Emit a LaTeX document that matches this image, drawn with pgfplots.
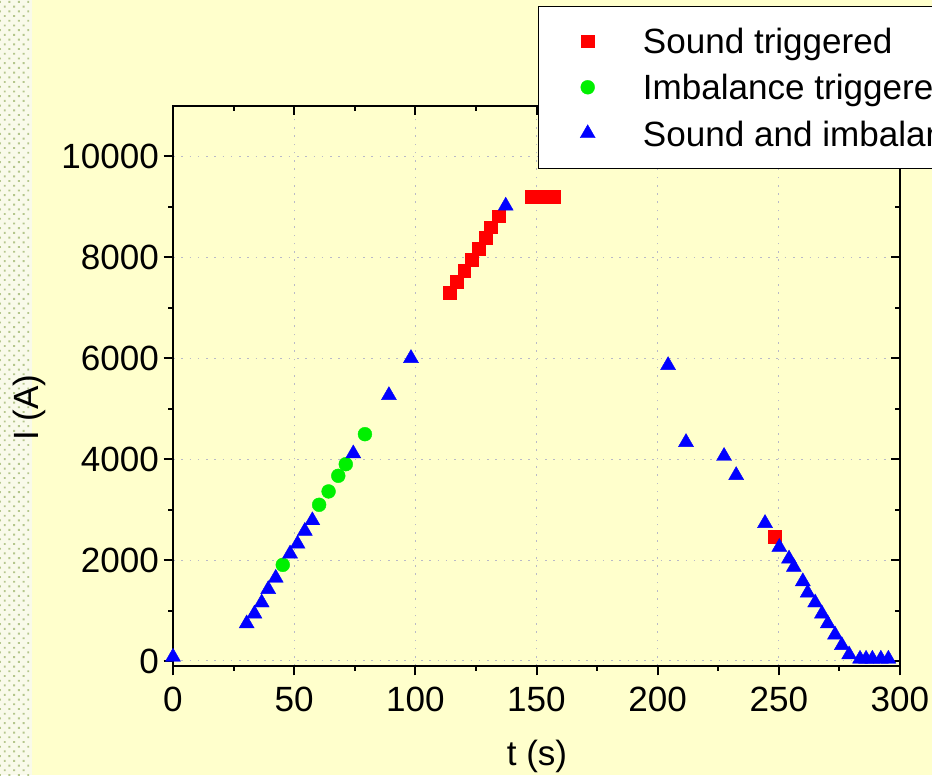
\documentclass[border=0pt]{standalone}
\usepackage{pgfplots}
\pgfplotsset{compat=1.18}
\usepackage{fontspec}
\setmainfont{Liberation Sans}
\usetikzlibrary{patterns.meta}

\definecolor{pagebg}{RGB}{255,255,204}
\definecolor{stripbg}{RGB}{249,250,234}
\definecolor{stripdot}{RGB}{180,198,140}
\definecolor{gridc}{RGB}{185,185,200}
\definecolor{markgreen}{RGB}{0,240,0}

\newcommand\lbl{\fontsize{26.3}{31}\selectfont}

% measured points: time (s) vs. current (A)
\pgfplotstableread{
t I
114.3 7300
117.2 7524
120.2 7728
123.3 7960
126.3 8171
129.2 8395
131.2 8599
134.3 8817
148.0 9200
151.0 9200
154.0 9200
157.0 9200
248.2 2461
}\soundtrig

\pgfplotstableread{
t I
45.3 1905
60.3 3095
64.2 3360
68.2 3670
71.3 3900
79.2 4495
}\imbtrig

\pgfplotstableread{
t I
0.0 80
30.4 740
33.6 935
36.6 1155
39.3 1420
42.4 1645
48.3 2125
51.4 2320
54.4 2575
57.5 2785
74.4 4110
89.1 5265
98.2 6000
137.3 9020
204.3 5860
211.7 4335
227.4 4060
232.4 3680
244.3 2730
250.2 2255
254.2 2025
256.2 1860
259.9 1575
261.9 1350
265.0 1155
267.8 935
270.2 740
273.2 520
276.0 310
279.0 125
283.5 40
286.0 40
288.6 40
292.1 40
295.2 40
}\bothtrig

\pgfplotsset{
  frame/.style={
    at={(129.75pt,81.75pt)}, anchor=south west,
    scale only axis, width=545.25pt, height=420pt,
    xmin=0, xmax=300, ymin=-100, ymax=11000,
    xtick={0,50,...,300}, ytick={0,2000,...,10000},
    minor x tick num=1, minor y tick num=1,
    scaled ticks=false,
    major tick length=7pt, minor tick length=3.5pt,
    every tick/.style={black, line width=1.5pt},
    axis line style={line width=1.5pt},
  }
}

\begin{document}
\begin{tikzpicture}
\useasboundingbox (0,0) rectangle (699pt,581.25pt);
\fill[pagebg] (0,0) rectangle (699pt,581.25pt);
\fill[stripbg] (0,0) rectangle (23.8pt,581.25pt);
\fill[pattern={Dots[distance=5pt, angle=45, radius=1pt]}, pattern color=stripdot]
  (0,0) rectangle (23.8pt,581.25pt);

% grid and inward ticks on the top and right sides
\begin{axis}[frame,
  tick align=inside, xtick pos=right, ytick pos=right,
  xticklabels={}, yticklabels={},
  grid=major,
  major grid style={gridc, line width=0.8pt, dash pattern=on 1.2pt off 5pt},
]
\end{axis}

% data, outward ticks, labels and legend
\begin{axis}[frame, clip=false,
  tick align=outside, xtick pos=left, ytick pos=left,
  tick label style={font=\lbl},
  xticklabel style={yshift=-5pt},
  /pgf/number format/.cd, 1000 sep={}, assume math mode=true, /pgfplots/.cd,
  xlabel={t (s)}, ylabel={I (A)}, label style={font=\lbl},
  xlabel style={at={(axis description cs:0.5007,-0.1607)}, anchor=center},
  ylabel style={at={(axis description cs:-0.197,0.461)}, anchor=center},
  legend cell align=left,
  legend style={at={(axis description cs:0.5021,1.1786)}, anchor=north west,
    draw=black, line width=0.75pt, fill=white, font=\lbl,
    inner xsep=31.25pt, inner ysep=16.5pt, row sep=15.6pt,
    nodes={inner sep=0pt, text height=19pt, text depth=0pt},
    /tikz/every odd column/.append style={column sep=35.8pt}},
]
\addplot[only marks, mark=square*, mark size=4.8pt, color=red, mark options={line width=0.3pt}]
  table[x=t, y=I] {\soundtrig};
\addlegendentry{Sound triggered}
\addplot[only marks, mark=*, mark size=5.2pt, color=markgreen, mark options={line width=0.3pt}]
  table[x=t, y=I] {\imbtrig};
\addlegendentry{Imbalance triggered}
\addplot[only marks, mark=triangle*, mark size=6.5pt, color=blue, mark options={line width=0.3pt}]
  table[x=t, y=I] {\bothtrig};
\addlegendentry{Sound and imbalance triggered}
\end{axis}
\end{tikzpicture}
\end{document}
